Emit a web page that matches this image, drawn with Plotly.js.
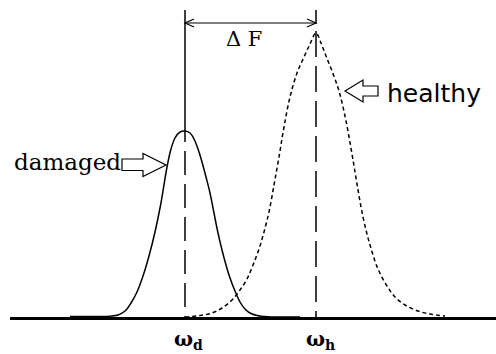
<!DOCTYPE html>
<html>
<head>
<meta charset="utf-8">
<script src="https://cdn.plot.ly/plotly-3.0.1.min.js"></script>
<style>html,body{margin:0;padding:0;background:#fff;}#chart{width:496px;height:354px;}</style>
</head>
<body>
<div id="chart"></div>
<script>
// Frequency axis positions of the two resonance peaks
const omegaD = 185;
const omegaH = 316;

// Damaged response (solid)
const damagedX = [70, 100, 110, 118, 125, 131, 137, 143, 149, 155, 160, 163, 167, 171, 175, 180, 185, 190, 194, 198, 202, 206, 210, 214, 218, 222, 226, 230, 235, 240, 245, 250, 257, 268, 300];
const damagedY = [0.5, 0.5, 0.8, 2, 6, 14, 25, 41, 61, 85, 109, 126, 150, 168, 179, 185, 186, 184, 178, 168, 155, 140, 124, 104, 84, 67, 52, 39, 26, 15, 8, 4, 1.5, 0.3, 0];

// Healthy response (dotted)
const healthyX = [185, 200, 212, 222, 232, 240, 247, 253, 259, 264, 269, 274, 279, 284, 290, 297, 304, 310, 316, 321, 326, 332, 339, 346, 352, 357, 363, 370, 378, 387, 395, 405, 418, 430, 445];
const healthyY = [0, 1.5, 4, 9, 17, 27, 38, 52, 68, 85, 105, 132, 160, 190, 220, 244, 260, 273, 284, 274, 261, 246, 226, 196, 163, 133, 100, 72, 48, 31, 20, 12, 6, 3, 1];

const labels = {damaged: 'damaged', healthy: 'healthy', delta: 'Δ F', wd: 'ω<sub>d</sub>', wh: 'ω<sub>h</sub>'};

const traces = [
  {x: damagedX, y: damagedY, type: 'scatter', mode: 'lines', name: 'damaged',
   line: {color: '#000', width: 1.5, shape: 'spline', smoothing: 1}, hoverinfo: 'skip'},
  {x: healthyX, y: healthyY, type: 'scatter', mode: 'lines', name: 'healthy',
   line: {color: '#000', width: 1.5, dash: '4px,3px', shape: 'spline', smoothing: 1}, hoverinfo: 'skip'}
];

const lineTop = 307;
const arrowY = 294;
const shapes = [
  {type: 'line', xref: 'x', yref: 'y', x0: omegaD, x1: omegaD, y0: lineTop, y1: 199, line: {color: '#000', width: 1.5}},
  {type: 'line', xref: 'x', yref: 'y', x0: omegaD, x1: omegaD, y0: 199, y1: 0, line: {color: '#000', width: 1.5, dash: '24px,9px'}},
  {type: 'line', xref: 'x', yref: 'y', x0: omegaH, x1: omegaH, y0: lineTop, y1: 293, line: {color: '#000', width: 1.5}},
  {type: 'line', xref: 'x', yref: 'y', x0: omegaH, x1: omegaH, y0: 286, y1: 0, line: {color: '#000', width: 1.5, dash: '26px,9px'}},
  // double-headed ΔF arrow
  {type: 'line', xref: 'x', yref: 'y', x0: omegaD, x1: omegaH, y0: arrowY, y1: arrowY, line: {color: '#000', width: 1.2}},
  {type: 'path', xref: 'x', yref: 'y', path: `M${omegaD + 9},${arrowY + 4} L${omegaD},${arrowY} L${omegaD + 9},${arrowY - 4}`,
   line: {color: '#000', width: 1.2}},
  {type: 'path', xref: 'x', yref: 'y', path: `M${omegaH - 9},${arrowY + 4} L${omegaH},${arrowY} L${omegaH - 9},${arrowY - 4}`,
   line: {color: '#000', width: 1.2}},
  // hollow arrow pointing at the damaged curve
  {type: 'path', xref: 'x', yref: 'y', path: 'M122,158 L143,158 L143,163.5 L166,152 L143,140.5 L143,146.5 L122,146.5 Z',
   line: {color: '#000', width: 1.2}, fillcolor: '#fff'},
  // hollow arrow pointing at the healthy curve
  {type: 'path', xref: 'x', yref: 'y', path: 'M345,226 L363,237 L363,231 L378,231 L378,221 L363,221 L363,215 Z',
   line: {color: '#000', width: 1.2}, fillcolor: '#fff'}
];

const labelY = -23 / 317;
const annotations = [
  {x: 244, y: 278.5, xref: 'x', yref: 'y', text: labels.delta, showarrow: false, xanchor: 'center', yanchor: 'middle',
   font: {family: 'DejaVu Serif', size: 21, color: '#000'}},
  {x: 12, y: 155, xref: 'x', yref: 'y', text: labels.damaged, showarrow: false, xanchor: 'left', yanchor: 'middle',
   font: {family: 'DejaVu Serif', size: 23, color: '#000'}},
  {x: 385, y: 224, xref: 'x', yref: 'y', text: labels.healthy, showarrow: false, xanchor: 'left', yanchor: 'middle',
   font: {family: 'DejaVu Sans', size: 25, color: '#000'}},
  {x: 172, y: labelY, xref: 'x', yref: 'paper', text: labels.wd, showarrow: false, xanchor: 'left', yanchor: 'middle',
   font: {family: 'DejaVu Serif', size: 20, color: '#000', weight: 'bold'}},
  {x: 304, y: labelY, xref: 'x', yref: 'paper', text: labels.wh, showarrow: false, xanchor: 'left', yanchor: 'middle',
   font: {family: 'DejaVu Serif', size: 20, color: '#000', weight: 'bold'}}
];

const layout = {
  width: 496, height: 354,
  margin: {l: 10, r: 0, t: 0, b: 37, pad: 0},
  paper_bgcolor: '#fff', plot_bgcolor: '#fff',
  showlegend: false,
  xaxis: {range: [10, 496], showgrid: false, zeroline: false, showticklabels: false, ticks: '',
          showline: true, linecolor: '#000', linewidth: 2.5, fixedrange: true},
  yaxis: {range: [0, 317], showgrid: false, zeroline: false, showticklabels: false, ticks: '',
          showline: false, fixedrange: true},
  shapes: shapes,
  annotations: annotations
};

Plotly.newPlot('chart', traces, layout, {displayModeBar: false, staticPlot: true});
</script>
</body>
</html>
